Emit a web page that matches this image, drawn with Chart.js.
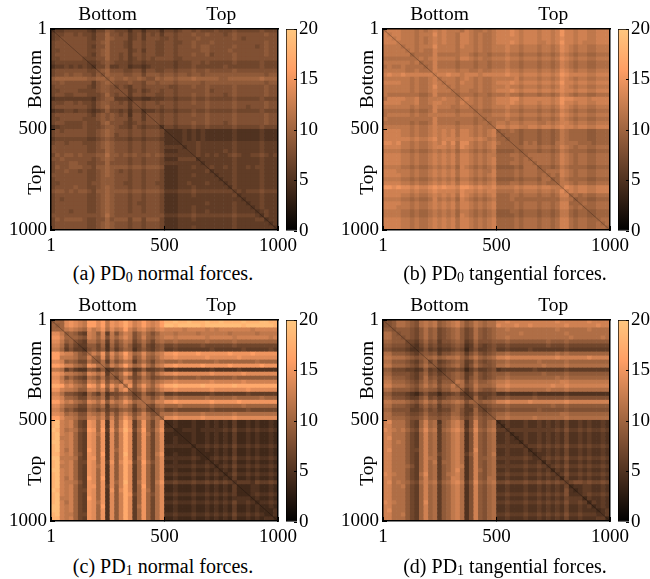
<!DOCTYPE html>
<html>
<head>
<meta charset="utf-8">
<script src="https://cdn.jsdelivr.net/npm/chart.js@4"></script>
<style>
  html, body { margin: 0; padding: 0; background: #fff; }
  #page { position: relative; width: 650px; height: 579px; overflow: hidden; }
  #page canvas { position: absolute; }
  .cap { position: absolute; width: 300px; text-align: center; font: 20px "Liberation Serif", serif; color: #000; white-space: nowrap; }
  .cap sub { font-size: 14px; vertical-align: -2px; line-height: 0; }
</style>
</head>
<body>
<div id="page"></div>
<script>
// distance matrices, binned to 50x50 and read off by eye. symmetric so only upper triangle
// each row starts on the diagonal, one base-21 digit per cell (0-9, a=10 ... k=20)
const pd0Normal = [
"56677 77765 77987 77577 57775 77678 87877 78777 87777 78777",
"7788 78776 88a88 78678 68786 88788 89889 88878 98888 88988",
"888 88876 88a98 88678 68887 78788 88988 88888 98788 88888",
"88 88877 89a88 87688 78877 88778 89888 98888 88888 88988",
"8 88876 88a88 87688 78877 88788 89899 88888 98888 78988",
"88877 89a88 88678 68877 88788 88899 88889 88888 88988",
"8876 89a88 78688 78877 88788 89889 78888 98888 88988",
"777 88a88 78678 78788 88778 88888 88888 98888 88888",
"66 78987 77677 67777 77677 78878 77777 87777 78777",
"5 77966 77566 56777 77677 78777 77787 77777 78777",
"89a88 87788 68877 88788 89889 88888 98888 88888",
"8a99 98899 79998 99899 89989 99999 99999 99899",
"9a9 9a99a 988a9 aa9aa abaaa aa99a aaaaa abaaa",
"98 88988 79989 99899 99989 99999 99999 99899",
"7 87688 78888 87788 89889 88888 98888 88988",
"88678 67887 88788 88889 78888 98888 88988",
"8688 78877 88788 89889 88878 98888 88988",
"566 55666 77677 78778 77777 87777 78777",
"88 78878 88788 89889 88888 98888 88988",
"8 78887 88788 88889 88888 98878 88988",
"56676 77677 78778 77777 87777 78777",
"8887 88788 89889 88888 98888 88988",
"887 88788 88889 88888 98888 88988",
"87 88788 89889 88878 98888 88988",
"5 77677 78778 77777 87777 78777",
"55556 56565 55555 65555 56555",
"5556 56565 55555 65555 56555",
"556 56565 55555 65555 56555",
"56 66766 66666 76666 67666",
"5 66766 66666 76666 67666",
"66766 66676 76666 67666",
"6767 67667 87667 78767",
"566 66666 76666 67666",
"56 66666 76666 67666",
"6 76676 76676 77666",
"56666 76666 67666",
"5666 76666 67666",
"566 76666 67666",
"56 76666 67666",
"5 76666 67666",
"67677 78777",
"5666 67666",
"566 67666",
"56 67666",
"5 67666",
"56766",
"5766",
"566",
"56",
"5"
];
const pd0Tangential = [
"cdddc ccbcb cdcdc ccbdc bbcbc ddded cdddc ddcdf ddcdd ccddd",
"cddc ccbcc cecdc cbddc bcbbc ddded cdddc ddcdf ddcdd ccddd",
"cdc ccbcb cdcdc cbddc bcbbc ddddd cdddc ddcde ddcdd ccddd",
"cc ccbcb cdcdc cbddc bcbbc ddded cdddc cdcdf ddcdc ccddd",
"b ccbcc cecc c cbdcc bcbbc ccdcc bcccb ccbce dcbcc bbccc",
"bcbcb bdccc cbccc bcbbc ccdcc bcccb ccbce dcbcc bbccc",
"abbb bdbbb bbccb abbab bbcbb abbba bbabd cbabb aabbb",
"bcb cdccc cbddc bcbbc ccdcc bcccb ccbce dcbcc bbccc",
"ab bdbbb babbb abbab bbcbb abbba bbabd cbabb aabbb",
"a bdbbb babbb abbab bbcbb abbba bbabd cbabb aabbb",
"bdccc cbccb bcbbc ccdcc bcccb ccbce dcbcc bbccc",
"cdde ddcdd dcddd ddedd cdddc ddcdf edddd ccddd",
"bcc cbcdc bcbbc ccccd bcccb ccbce dcbcc bbccc",
"bc cbdcc bcbbc ddded cdddc ddcdf ddcdd ccddd",
"b cbccc bcbbc ccdcc bcccb ccbce dcbcc bbccc",
"bbccb bcbbc ddded cdddc ddcde ddcdd ccddd",
"abbb abbab bbcbb abbba bbabd cbabb aabbb",
"cdc bcbbc dddee cdddd ddcdf eeddd cdddd",
"cc bcbbc ddded cdddc ddcdf ddcdd ccddd",
"b bcbbc ccdcc bcccb ccbce dcbcc bbccc",
"abaab bbcbb abbba bbabd cbabb aabbb",
"bbbc ccdcc bcccb ccbce dcbcc bbccc",
"abb bbcbb abbba bbabd cbabb aabbb",
"ab ccbcc bcccb bcbcd dcbcc bbccc",
"b ddcdd ccddc ddcde ddcdd ccddd",
"9aaba 9aaa9 aa9ac baaaa 99aaa",
"9aaa 9aaa9 aa9ac baaaa 99aaa",
"9aa 9aaa9 aa9ac baaaa 99aaa",
"aa 9bab9 aa9bc bbbaa a9aaa",
"a abbba bbabd cbabb aabbb",
"9aaa9 aa9ac baaaa 99aaa",
"abbb bbabd cbabb aabbb",
"abb bbabd cbabb aabbb",
"ab bbabd cbabb aabbb",
"9 aa9ac baaaa 99aaa",
"abbbd cbabb aabbb",
"abad cbabb aabbb",
"9ac baaaa 99aaa",
"ac cbabb aabbb",
"c edcdd ccddd",
"cdcdd ccddd",
"abab aabbb",
"9aa 99aaa",
"ab aabbb",
"a aabbb",
"99aaa",
"9aaa",
"abb",
"ab",
"a"
];
const pd1Normal = [
"9aaef edcgg egcfe fhfde gedeg iijii jiiij iijii iijii ijjii",
"9aef edcgg egcfe fhfde gedeg jjijj jjjij jjjjj jjijj jjjji",
"acd cbaec dfbec dgdbd ecbde ddddc ddddc dcddd ddddc ddddd",
"9a 976dc 9d6c8 bdc8a ca8ac ccbcc ccbcc ccccb ccccc bcccc",
"a a98dc ad8ca cec8a da9bc ddcdd ddddc ddddd cdddd dddcd",
"876bb 9b6b8 acb79 b97ab aabaa aaaab aaaaa baaaa aaaaa",
"6699 7a5a7 9b967 a7689 77877 77787 77777 87777 77777",
"589 79596 8a957 97689 66766 66666 76666 66766 66676",
"bd bf9eb dgdab ebacd ffgff ffgff ffffg ffffg fffff",
"a 9e8da cfd8a da9bd eefee eeeef eeeee efeee eeeee",
"8b6b8 acb69 b97ab aaaba aaaaa abaaa aaaaa baaaa",
"b9db dgdab eb9cd ffgff fffgf ffffg fffff fgfff",
"567 8a856 96678 55655 55555 65555 56555 55555",
"a9 bfd7a da8bd eefee eeeee feeee eefee eeeee",
"7 ac978 b9789 99a99 99a99 99999 a9999 99999",
"9ed8a cb9bc ddedd ddddd edddd ddedd ddddd",
"bf9c fcadf hhihh hhhih hhhhh ihhhh hhhhh",
"a8a da9bd eefee eeeee feeee eeefe eeeee",
"67 a7689 66766 66666 76666 66676 66666",
"8 ba8ac aabaa aaaab aaaaa baaaa abaaa",
"bbadd ffgff fffff gffff fgfff fffff",
"87ab aaaba aaaaa baaaa aabaa aaaaa",
"689 77877 77777 87777 77787 77777",
"8b bbcbb bbbcb bbbbb cbbbb bbbbb",
"a eefee eeefe eeeee feeee eeeee",
"44544 45445 45454 64454 54454",
"4544 45445 45454 64454 54454",
"445 55455 55565 75565 65565",
"44 45445 45454 64454 54454",
"4 45445 45454 64454 54454",
"45445 45454 64454 54454",
"4556 56565 75565 65565",
"445 45454 64454 54454",
"44 45454 64454 54454",
"4 56565 75565 65565",
"45454 64454 54454",
"4565 75565 65565",
"454 64454 54454",
"45 75565 65565",
"4 64454 54454",
"56665 76676",
"4445 54454",
"445 54454",
"45 65565",
"4 54454",
"45565",
"4454",
"445",
"45",
"4"
];
const pd1Tangential = [
"889bb a98bc bc9ab cdb9a cbabb ddedd ddddd ddded ddddd edddd",
"89bb a98bc bc9ab cdb9a cbabb eddde ddedd ddddd edddd ddedd",
"899 9879b 9a789 ab978 b989a bbcbb bbbbb bbbcb bbbbb cbbbb",
"89 9879b 9a789 ab978 b989a bbbbb cbbbb bbbbb cbbbb bbbbb",
"8 9879b 9a789 ab978 b989a bbcbb bbbbb bbbbb bcbbb bbbcb",
"7768a 89688 9a967 a8889 99a99 99999 9a999 a9999 99999",
"6579 78677 89856 97678 77877 77777 78777 87777 77777",
"568 67566 78746 86678 66766 66766 66666 76666 66666",
"89 89688 9a968 a8789 aabaa aaaaa aaaba baaaa aaaaa",
"a ab9ab bca8a ca9ab ddedd ddddd ddded ddddd edddd",
"79678 9a967 a8789 aabaa aaaab aaaaa baaaa aaaaa",
"9789 ab968 b9889 bbcbb bbbbb cbbbb cbbbb bbbbb",
"567 78746 86678 56666 66676 66666 76666 66666",
"78 9a967 a8789 99a99 99999 a9999 a9999 99999",
"8 9a968 a8789 aabaa aaaaa aaaba baaaa aaaaa",
"9cb79 b99ab ccdcc ccccc ccccd dcccc ccccc",
"ab89 caaab ddedd ddddd ddedd edddd ddddd",
"968 b9889 bbcbb bbbbb bcbbb cbbbb bbbbb",
"56 86667 55655 55565 55555 65555 55555",
"6 a7678 88988 88898 88888 98888 88888",
"a9aab ddedd ddedd ddddd edddd ddddd",
"7789 99a99 99999 99a99 a9999 99999",
"678 88988 88889 88888 98888 88888",
"89 aabaa aaaaa aaaab baaaa aaaaa",
"9 bbcbb bbbcb bbbbb cbbbb bbbbb",
"45655 56556 56565 75565 65565",
"4655 56556 56565 75565 65565",
"566 66666 66676 86676 76676",
"45 56556 56565 75565 65565",
"4 56556 56565 75565 65565",
"46556 56565 75565 65565",
"5667 67676 86676 76676",
"456 56565 75565 65565",
"45 56565 75565 65565",
"5 67676 86676 76676",
"46565 75565 65565",
"5676 86676 76676",
"465 75565 65565",
"56 86676 76676",
"4 75565 65565",
"67887 87787",
"4556 65565",
"456 65565",
"56 76676",
"4 65565",
"46565",
"4565",
"456",
"56",
"4"
];

const axisTicks = [1, 500, 1000];
const groupPos = [250, 750];
const groupNames = ['Bottom', 'Top'];
const axisRange = [1, 1000];
const barTicks = [0, 5, 10, 15, 20];
const barRange = [0, 20];

const panels = [
  {rows: pd0Normal, left: 0, top: 0, cap: '(a) PD<sub>0</sub> normal forces.', capX: 13, capY: 262},
  {rows: pd0Tangential, left: 332, top: 0, cap: '(b) PD<sub>0</sub> tangential forces.', capX: 355, capY: 262},
  {rows: pd1Normal, left: 0, top: 291, cap: '(c) PD<sub>1</sub> normal forces.', capX: 13, capY: 555},
  {rows: pd1Tangential, left: 332, top: 291, cap: '(d) PD<sub>1</sub> tangential forces.', capX: 355, capY: 555}
];

const FONT = '"Liberation Serif", serif';
const page = document.getElementById('page');

function copper(v) {
  const t = v / 20;
  return `rgb(${Math.round(255 * Math.min(1, 1.25 * t))},${Math.round(255 * 0.7812 * t)},${Math.round(255 * 0.4975 * t)})`;
}

function cells(rows) {
  const out = [];
  const n = rows.length;
  const step = (axisRange[1] - axisRange[0]) / n;
  rows.forEach((row, i) => {
    const digits = row.replace(/\s/g, '');
    for (let k = 0; k < digits.length; k++) {
      const j = i + k;
      const v = parseInt(digits[k], 21);
      out.push({x: 1 + (j + 0.5) * step, y: 1 + (i + 0.5) * step, v});
      if (j !== i) out.push({x: 1 + (i + 0.5) * step, y: 1 + (j + 0.5) * step, v});
    }
  });
  return out;
}

function addCanvas(left, top, w, h) {
  const c = document.createElement('canvas');
  c.style.left = left + 'px';
  c.style.top = top + 'px';
  c.style.width = w + 'px';
  c.style.height = h + 'px';
  c.width = w;
  c.height = h;
  page.appendChild(c);
  return c;
}

// rotated Bottom/Top labels on the left of each matrix
const sideLabels = {
  id: 'sideLabels',
  afterDraw(chart) {
    const ctx = chart.ctx;
    const y = chart.scales.y;
    ctx.save();
    ctx.fillStyle = '#000';
    ctx.font = '19.5px ' + FONT;
    ctx.textAlign = 'center';
    ctx.textBaseline = 'middle';
    groupPos.forEach((p, i) => {
      ctx.save();
      ctx.translate(chart.chartArea.left - 15, y.getPixelForValue(p));
      ctx.rotate(-Math.PI / 2);
      ctx.fillText(groupNames[i], 0, 0);
      ctx.restore();
    });
    ctx.restore();
  }
};

function drawMatrix(p) {
  const canvas = addCanvas(p.left, p.top, 312, 262);
  const gridOpts = {drawOnChartArea: false, drawTicks: true, tickLength: -4, color: '#000', lineWidth: 1, z: 1};
  const noGrid = {drawOnChartArea: false, drawTicks: false};
  const border = {display: true, color: '#000', width: 1.5, z: 2};
  new Chart(canvas, {
    type: 'scatter',
    data: {
      datasets: [
        {
          type: 'line',
          data: axisRange.map(v => ({x: v, y: v})),
          borderColor: 'rgba(0,0,0,0.3)',
          borderWidth: 0.8,
          pointRadius: 0,
          order: 0
        },
        {
          data: cells(p.rows),
          pointStyle: 'rect',
          pointBorderWidth: 0,
          pointRadius: ctx => {
            const area = ctx.chart.chartArea;
            return area ? ((area.width / p.rows.length) + 0.6) / Math.SQRT2 : 3;
          },
          pointBackgroundColor: ctx => copper(ctx.raw ? ctx.raw.v : 0),
          order: 1
        }
      ]
    },
    options: {
      responsive: false,
      animation: false,
      events: [],
      layout: {padding: 0},
      plugins: {legend: {display: false}, tooltip: {enabled: false}},
      scales: {
        x: {
          type: 'linear', position: 'bottom', min: axisRange[0], max: axisRange[1],
          grid: gridOpts, border,
          afterBuildTicks: s => { s.ticks = axisTicks.map(v => ({value: v})); },
          afterFit: s => { s.height = 32; },
          ticks: {autoSkip: false, maxRotation: 0, padding: 9, color: '#000', font: {family: FONT, size: 19}, callback: v => String(v)}
        },
        xTop: {
          type: 'linear', position: 'top', min: axisRange[0], max: axisRange[1],
          grid: noGrid, border,
          afterBuildTicks: s => { s.ticks = groupPos.map(v => ({value: v})); },
          afterFit: s => { s.height = 29; },
          ticks: {autoSkip: false, maxRotation: 0, padding: 2, color: '#000', font: {family: FONT, size: 19.5}, callback: v => groupNames[groupPos.indexOf(v)]}
        },
        y: {
          type: 'linear', position: 'left', reverse: true, min: axisRange[0], max: axisRange[1],
          grid: gridOpts, border,
          afterBuildTicks: s => { s.ticks = axisTicks.map(v => ({value: v})); },
          afterFit: s => { s.width = 51; },
          ticks: {autoSkip: false, padding: 8, color: '#000', font: {family: FONT, size: 19}, callback: v => String(v)}
        },
        yRight: {
          type: 'linear', position: 'right', reverse: true, min: axisRange[0], max: axisRange[1],
          grid: noGrid, border,
          afterFit: s => { s.width = 34; },
          ticks: {display: false}
        }
      }
    },
    plugins: [sideLabels]
  });
  // colour bar next to it
  const barCanvas = addCanvas(p.left + 280, p.top, 60, 262);
  new Chart(barCanvas, {
    type: 'bar',
    data: {
      labels: ['d'],
      datasets: [{
        data: [barRange],
        barPercentage: 1,
        categoryPercentage: 1,
        borderColor: '#000',
        borderWidth: 1,
        borderSkipped: false,
        backgroundColor: ctx => {
          const area = ctx.chart.chartArea;
          if (!area) return '#000';
          const g = ctx.chart.ctx.createLinearGradient(0, area.bottom, 0, area.top);
          barTicks.concat([2.5, 7.5, 12.5, 16]).sort((a, b) => a - b).forEach(v => g.addColorStop(v / 20, copper(v)));
          return g;
        }
      }]
    },
    options: {
      responsive: false,
      animation: false,
      events: [],
      layout: {padding: {left: 6, top: 29, bottom: 31}},
      plugins: {legend: {display: false}, tooltip: {enabled: false}},
      scales: {
        x: {display: false},
        y: {
          position: 'right', min: barRange[0], max: barRange[1],
          grid: {drawOnChartArea: false, tickLength: -3, color: '#000', z: 1},
          border: {display: false},
          afterBuildTicks: s => { s.ticks = barTicks.map(v => ({value: v})); },
          afterFit: s => { s.width = 43; },
          ticks: {padding: 5, color: '#000', font: {family: FONT, size: 19}}
        }
      }
    }
  });
  const cap = document.createElement('div');
  cap.className = 'cap';
  cap.style.left = p.capX + 'px';
  cap.style.top = p.capY + 'px';
  cap.innerHTML = p.cap;
  page.appendChild(cap);
}

panels.forEach(drawMatrix);
</script>
</body>
</html>
